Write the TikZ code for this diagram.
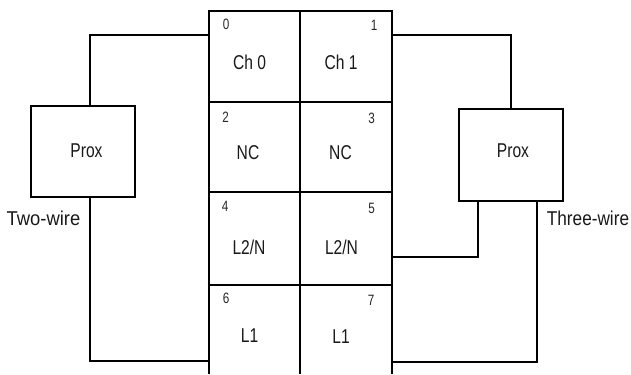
\documentclass[tikz,border=0pt]{standalone}
\usepackage{fontspec}
\setmainfont[FakeStretch=0.78]{Liberation Sans}
\newfontfamily\sidefont[FakeStretch=0.92]{Liberation Sans}
\newfontfamily\sidefontb[FakeStretch=0.86]{Liberation Sans}
\begin{document}
\begin{tikzpicture}[x=1bp,y=-1bp,
  wire/.style={line width=2bp,line cap=butt,line join=miter,draw=black},
  proxbox/.style={draw=black,line width=2bp,minimum width=104bp,minimum height=91.5bp,inner sep=0pt},
  lbl/.style={inner sep=0pt,font=\fontsize{20bp}{22bp}\selectfont,text=black!90},
  sidelbl/.style={inner sep=0pt,font=\sidefont\fontsize{20bp}{22bp}\selectfont,text=black!90},
  sidelblb/.style={inner sep=0pt,font=\sidefontb\fontsize{20bp}{22bp}\selectfont,text=black!90},
  num/.style={inner sep=0pt,font=\fontsize{15bp}{17bp}\selectfont,text=black!85}]
\useasboundingbox (0,0) rectangle (631,374);
% terminal block
\coordinate (tl) at (209,11);
\coordinate (tm) at (300,11);
\coordinate (tr) at (392,11);
\coordinate (bl) at (209,374);
\coordinate (bm) at (300,374);
\coordinate (br) at (392,374);
\coordinate (r1l) at (208,101.5);
\coordinate (r1r) at (392,101.5);
\coordinate (r2l) at (209,191.5);
\coordinate (r2r) at (392,191.5);
\coordinate (r3l) at (207.5,284.5);
\coordinate (r3r) at (392,284.5);
\draw[wire] (bl) -- (tl) -- (tr) -- (br);
\draw[wire] (tm) -- (bm);
\draw[wire] (r1l) -- (r1r);
\draw[wire] (r2l) -- (r2r);
\draw[wire] (r3l) -- (r3r);
% prox
\node[proxbox] (pl) at (83,151.7) {};
\node[lbl] (pltext) at (86.5,150.5) {Prox};
\node[proxbox] (pr) at (510.5,155) {};
\node[lbl] (prtext) at (513,150.5) {Prox};
% wires
\coordinate (c0) at (209,35);
\coordinate (c6) at (209,361);
\coordinate (c1) at (392,35);
\coordinate (c5) at (392,256.5);
\coordinate (c7) at (392,362);
\draw[wire] (pl.north -| 90,0) -- (90,35) -- (c0);
\draw[wire] (pl.south -| 90,0) -- (90,361) -- (c6);
\draw[wire] (c1) -- (511,35) -- (pr.north -| 511,0);
\draw[wire] (c5) -- (478,256.5) -- (pr.south -| 478,0);
\draw[wire] (c7) -- (537,362) -- (pr.south -| 537,0);
% side labels
\node[sidelbl] (twow) at (43.5,218.5) {Two-wire};
\node[sidelblb] (threew) at (588,218.5) {Three-wire};
% terminal texts
\node[lbl] (ch0) at (249.5,62) {Ch 0};
\node[lbl] (ch1) at (341,62) {Ch 1};
\node[lbl] (nc0) at (248,153) {NC};
\node[lbl] (nc1) at (340.5,153) {NC};
\node[lbl] (l2a) at (249,247) {L2/N};
\node[lbl] (l2b) at (341.5,247) {L2/N};
\node[lbl] (l1a) at (249.5,336) {L1};
\node[lbl] (l1b) at (341,337) {L1};
% numbers
\node[num] (n0) at (226,24.5) {0};
\node[num] (n1) at (374,25.5) {1};
\node[num] (n2) at (225.5,117) {2};
\node[num] (n3) at (371.5,118) {3};
\node[num] (n4) at (225,206.5) {4};
\node[num] (n5) at (371.5,208) {5};
\node[num] (n6) at (226,298.5) {6};
\node[num] (n7) at (371,300) {7};
\end{tikzpicture}
\end{document}
